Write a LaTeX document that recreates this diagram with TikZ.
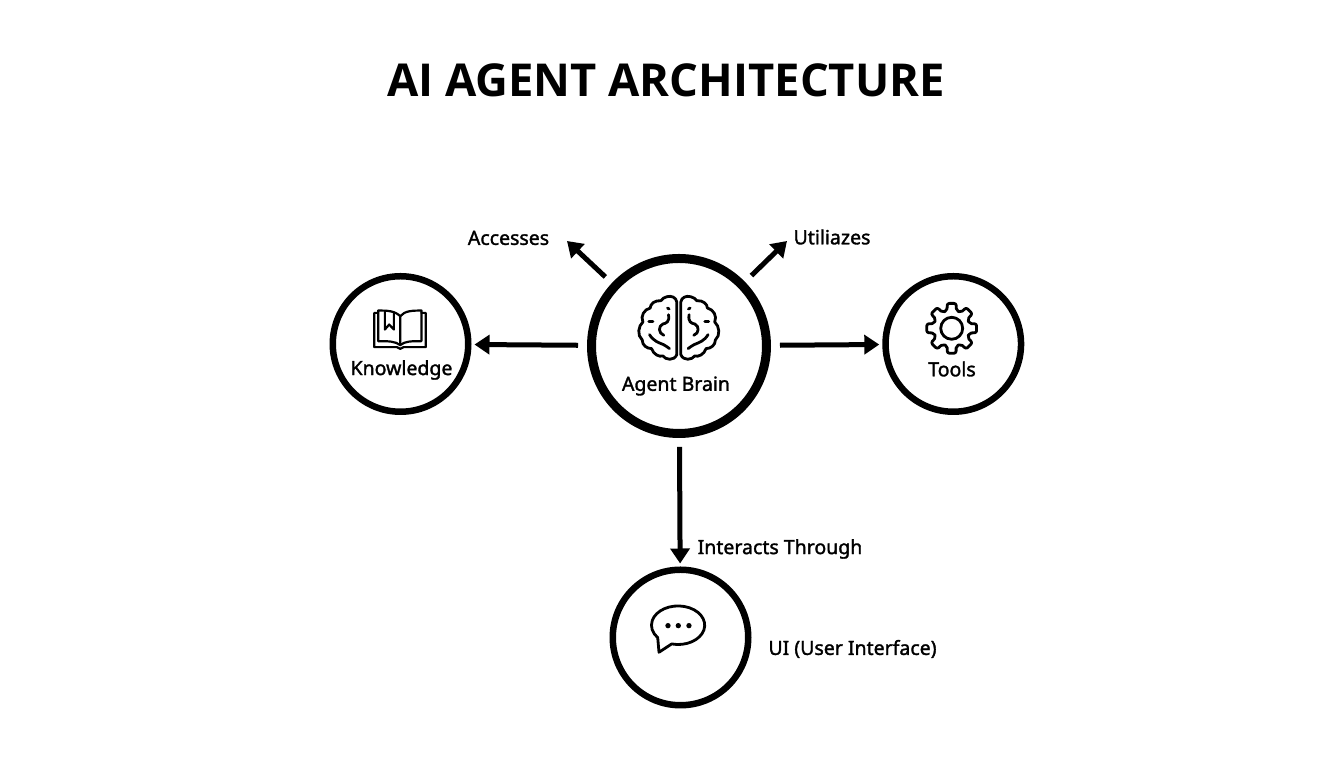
\documentclass[tikz,border=0pt]{standalone}
\usepackage{fontspec}
\setmainfont{Noto Sans}
\newfontfamily\titlefont{Open Sans}
\usetikzlibrary{arrows.meta}
\newcommand{\heavytext}[1]{\special{pdf:code 2 Tr 0.09 w}#1\special{pdf:code 0 Tr}}
\begin{document}
\begin{tikzpicture}[
        hub/.style={circle, draw, line width=0.09cm, minimum size=1.75cm, inner sep=0pt},
        part/.style={circle, draw, line width=0.065cm, minimum size=1.355cm, inner sep=0pt},
        arrow/.style={-{Triangle[length=0.15cm,width=0.19cm]}, line width=0.05cm, shorten <=0.09cm, shorten >=0.03cm},
        caption/.style={font=\fontsize{5.55pt}{7pt}\selectfont, inner sep=0pt},
        icon/.style={line width=0.028cm, line join=round, line cap=round},
        iconscale/.style={x=0.00333cm, y=-0.00333cm}
    ]
        \useasboundingbox (0,0) rectangle (13.44,7.68);

        % Title
        \node[font=\titlefont\bfseries\fontsize{12.9pt}{15pt}\selectfont, inner sep=0pt] (title) at (6.66,6.88) {AI AGENT ARCHITECTURE};

        % Circles
        \node[hub] (brain) at (6.79,4.22) {};
        \node[part] (knowledge) at (4.005,4.24) {};
        \node[part] (tools) at (9.533,4.24) {};
        \node[part] (ui) at (6.805,1.305) {};

        % Free arrow ends
        \coordinate (accessesTip) at (5.67,5.27);
        \coordinate (utilizesTip) at (7.87,5.27);

        % Arrows
        \draw[arrow] (brain) -- (knowledge);
        \draw[arrow] (brain) -- (tools);
        \draw[arrow] (brain) -- (ui);
        \draw[arrow, shorten >=0pt] (brain) -- (accessesTip);
        \draw[arrow, shorten >=0pt] (brain) -- (utilizesTip);

        % Texts
        \node[caption] (brainText) at (6.76,3.82) {\heavytext{Agent Brain}};
        \node[caption] (knowledgeText) at (4.015,3.98) {\heavytext{Knowledge}};
        \node[caption] (toolsText) at (9.52,3.99) {\heavytext{Tools}};
        \node[caption] (accesses) at (5.085,5.3) {\heavytext{Accesses}};
        \node[caption] (utilizes) at (8.32,5.31) {\heavytext{Utiliazes}};
        \node[caption] (interacts) at (7.8,2.19) {\heavytext{Interacts Through}};
        \node[caption] (uiText) at (8.525,1.19) {\heavytext{UI (User Interface)}};

        % Brain icon
        \begin{scope}[shift={(6.788,4.40)}, iconscale]
            \foreach \side in {1,-1} {
                \begin{scope}[xscale=\side]
                    \draw[icon] (-6,-78) .. controls (-8,-92) and (-22,-98) .. (-36,-94)
                        .. controls (-44,-92) and (-50,-88) .. (-54,-82)
                        .. controls (-72,-84) and (-86,-72) .. (-86,-60)
                        .. controls (-104,-56) and (-116,-36) .. (-108,-18)
                        .. controls (-122,-6) and (-126,22) .. (-110,36)
                        .. controls (-110,52) and (-96,62) .. (-82,62)
                        .. controls (-76,80) and (-58,88) .. (-48,84)
                        .. controls (-40,96) and (-14,100) .. (-6,80) -- cycle;
                    \draw[icon] (-90,-20) -- (-78,-20);
                    \draw[icon] (-34,-60) -- (-29,-57);
                    \draw[icon] (-31,-40) .. controls (-27,-18) and (-38,-14) .. (-48,-12)
                        .. controls (-62,-6) and (-62,16) .. (-45,22);
                    \draw[icon] (-88,20) .. controls (-76,40) and (-60,44) .. (-46,50)
                        .. controls (-38,54) and (-34,58) .. (-28,62);
                \end{scope}
            }
        \end{scope}

        % Book icon
        \begin{scope}[shift={(3.25,5.0)}, iconscale]
            \draw[icon, line width=0.022cm] (160,135) -- (148,135) -- (148,238) -- (216,238) -- (226,243) -- (236,238) -- (303,238) -- (303,135) -- (290,135);
            \draw[icon, line width=0.022cm] (226,145) .. controls (210,128) and (185,128) .. (160,128) -- (160,220)
                .. controls (190,220) and (212,220) .. (226,232) -- cycle;
            \draw[icon, line width=0.022cm] (226,145) .. controls (240,128) and (265,128) .. (290,128) -- (290,220)
                .. controls (260,220) and (240,220) .. (226,232);
            \draw[icon, line width=0.022cm] (180,131) -- (180,185) -- (193,170) -- (207,185) -- (207,133);
        \end{scope}

        % Gear icon
        \begin{scope}[shift={(9.517,4.397)}, iconscale]
            \draw[icon, rounded corners=0.02cm] (104:55) -- (100:76) -- (80:76) -- (76:55)
                \foreach \angle in {45,0,-45,-90,-135,-180,-225} {
                    -- (\angle+15:55) -- (\angle+10:76) -- (\angle-10:76) -- (\angle-15:55)
                } -- cycle;
            \draw[icon] (0,0) circle (33);
        \end{scope}

        % Speech bubble icon
        \begin{scope}[shift={(6.783,1.43)}, iconscale]
            \draw[icon] (-20,57) arc[start angle=104, end angle=-220, x radius=80, y radius=58] -- (-58,82) -- cycle;
            \fill (-31,2) circle (8);
            \fill (0,2) circle (8);
            \fill (32,2) circle (8);
        \end{scope}
    \end{tikzpicture}
\end{document}
